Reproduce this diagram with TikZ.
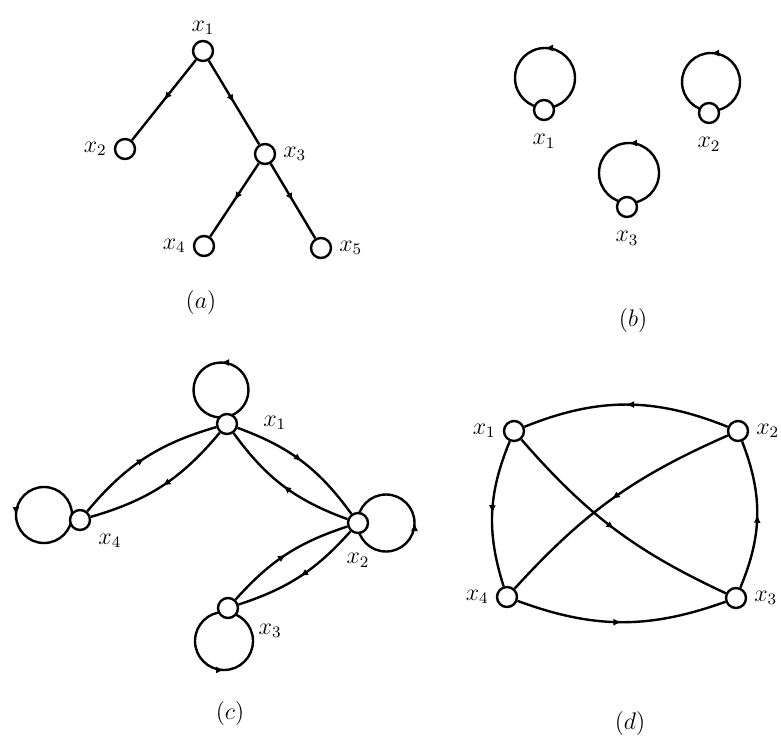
\documentclass[tikz,border=0pt]{standalone}
\usepackage{amsmath, amssymb}
\usepackage{tikz}
\usetikzlibrary{arrows.meta, decorations.markings}

\pgfdeclarelayer{background}
\pgfsetlayers{background,main}

\begin{document}
\begin{tikzpicture}[
  x=0.5pt, y=0.5pt,
  vertex/.style={circle, draw, fill=white, line width=1.2pt, minimum size=10pt, inner sep=0pt},
  link/.style={line width=1.2pt, postaction={decorate},
    decoration={markings, mark=at position 0.5 with {\arrow{Latex[length=4pt, width=3.5pt]}}}},
  every label/.style={font=\large},
  bend angle=17
]
\useasboundingbox (0,0) rectangle (781,736);

% (a)
\node[vertex, label={[label distance=-1pt]above:$x_1$}] (a1) at (203,685) {};
\node[vertex, label=left:$x_2$] (a2) at (125,587) {};
\node[vertex, label=right:$x_3$] (a3) at (265,582) {};
\node[vertex, label=left:$x_4$] (a4) at (204,490) {};
\node[vertex, label=right:$x_5$] (a5) at (321,488) {};
\draw[link] (a1) -- (a2);
\draw[link] (a1) -- (a3);
\draw[link] (a3) -- (a4);
\draw[link] (a3) -- (a5);
\node[font=\large] (capa) at (201,434) {$(a)$};

% (b)
\node[vertex, label={[label distance=3pt]below:$x_1$}] (b1) at (544,626) {};
\node[vertex, label={[label distance=3pt]below:$x_2$}] (b2) at (709,623) {};
\node[vertex, label={[label distance=3pt]below:$x_3$}] (b3) at (627,529) {};
\begin{pgfonlayer}{background}
\draw[link] ([shift={(1,32)}]b1.center) ++(-90:15pt) arc[start angle=-90, end angle=270, radius=15pt];
\draw[link] ([shift={(2,31)}]b2.center) ++(-90:14.5pt) arc[start angle=-90, end angle=270, radius=14.5pt];
\draw[link] ([shift={(2,34)}]b3.center) ++(-90:15pt) arc[start angle=-90, end angle=270, radius=15pt];
\end{pgfonlayer}
\node[font=\large] (capb) at (633,416) {$(b)$};

% (c)
\node[vertex, label={[label distance=9pt]2:$x_1$}] (c1) at (227,312) {};
\node[vertex, label={[label distance=6pt]below:$x_2$}] (c2) at (358,213) {};
\node[vertex, label={[label distance=7pt]-20:$x_3$}] (c3) at (228,128) {};
\node[vertex, label={[label distance=1pt]-30:$x_4$}] (c4) at (80,216) {};
\begin{pgfonlayer}{background}
\draw[link] ([shift={(-6,34)}]c1.center) ++(-90:13.75pt) arc[start angle=-90, end angle=270, radius=13.75pt];
\draw[link] ([shift={(28,0)}]c2.center) ++(180:14.25pt) arc[start angle=180, end angle=540, radius=14.25pt];
\draw[link] ([shift={(-4,-33)}]c3.center) ++(90:14.5pt) arc[start angle=90, end angle=450, radius=14.5pt];
\draw[link] ([shift={(-36,5)}]c4.center) ++(0:14pt) arc[start angle=0, end angle=360, radius=14pt];
\end{pgfonlayer}
\draw[link] (c4) to[bend left] (c1);
\draw[link] (c1) to[bend left] (c4);
\draw[link] (c1) to[bend left] (c2);
\draw[link] (c2) to[bend left] (c1);
\draw[link] (c2) to[bend left=15] (c3);
\draw[link] (c3) to[bend left=15] (c2);
\node[font=\large] (capc) at (230,23) {$(c)$};

% (d)
\node[vertex, label=left:$x_1$] (d1) at (514,305) {};
\node[vertex, label=right:$x_2$] (d2) at (738,305) {};
\node[vertex, label=right:$x_3$] (d3) at (736,138) {};
\node[vertex, label=left:$x_4$] (d4) at (507,139) {};
\draw[link] (d2) to[bend right=22] (d1);
\draw[link] (d1) to[bend right=20] (d4);
\draw[link] (d4) to[bend right=20] (d3);
\draw[link] (d3) to[bend right=22] (d2);
\draw[link] (d1) to[bend right=12] (d3);
\draw[link] (d2) to[bend right=12] (d4);
\node[font=\large] (capd) at (630,13) {$(d)$};
\end{tikzpicture}
\end{document}
